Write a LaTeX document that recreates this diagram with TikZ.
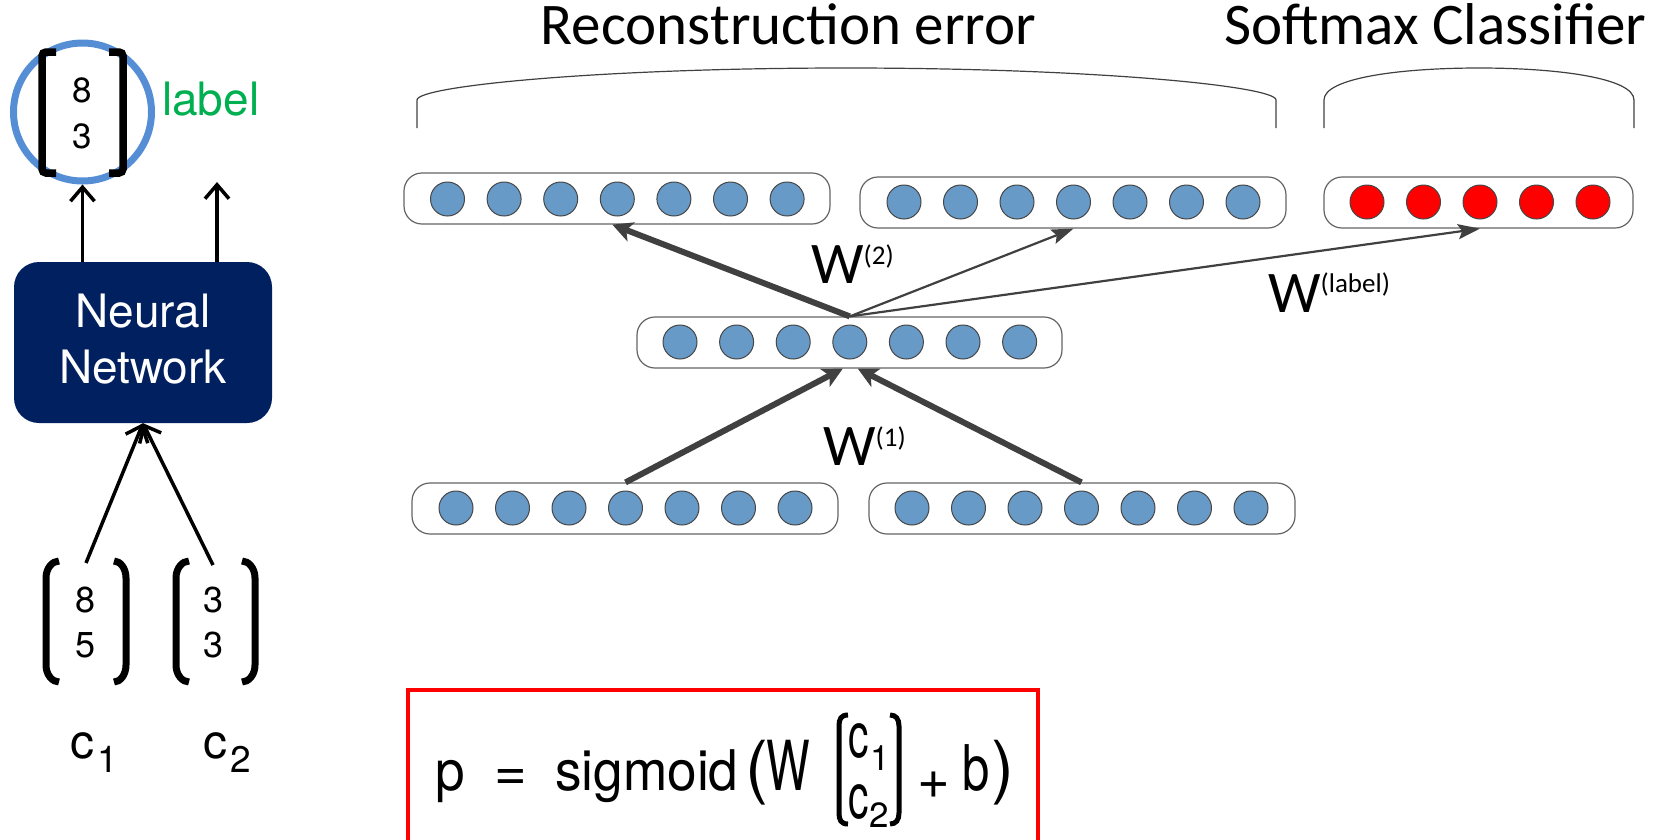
\documentclass[tikz,border=0pt]{standalone}
\usepackage{graphicx}
\usepackage{fontspec}
\setmainfont{TeX Gyre Heros}
\newfontfamily\arialf{TeX Gyre Heros}
\newfontfamily\cali{Carlito}
\usetikzlibrary{arrows.meta}
\newcommand\myfs[1]{\fontsize{#1}{#1}\selectfont}
\definecolor{navy}{RGB}{0,32,96}
\definecolor{nblue}{RGB}{104,154,199}
\definecolor{nline}{RGB}{70,70,70}
\definecolor{barline}{RGB}{100,100,100}
\definecolor{arrowc}{RGB}{64,64,64}
\definecolor{lgreen}{RGB}{0,176,80}
\definecolor{lblue}{RGB}{85,142,213}
\begin{document}
\begin{tikzpicture}[x=1pt,y=-1pt,
  bar/.style={draw=barline, line width=1.2pt, rounded corners=18pt, fill=white, minimum height=51pt, inner sep=0pt},
  bneuron/.style={circle, draw=nline, line width=1pt, fill=nblue, minimum size=34pt, inner sep=0pt},
  rneuron/.style={bneuron, fill=red},
  bigarrow/.style={draw=arrowc, line width=6pt, -{Stealth[length=20pt,width=20pt,inset=5pt]}},
  thinarrow/.style={draw=arrowc, line width=2.2pt, -{Stealth[length=22pt,width=15pt,inset=4pt]}},
  barb/.style={line width=3.5pt, -{Straight Barb[length=14pt,width=24pt]}},
  brk/.style={line width=7pt},
  txt/.style={anchor=base west, inner sep=0pt},
  brace/.style={draw=black!75, line width=1.2pt},
]
\useasboundingbox (0,0) rectangle (1658,839);

% headings and braces
\node[font=\cali\myfs{59}, anchor=base, inner sep=0pt] (rec) at (788.5,44) {Reconstruction error};
\node[font=\cali\myfs{59}, anchor=base, inner sep=0pt] (smx) at (1435.5,44) {Softmax Classifier};
\draw[brace] (417,128) -- (417,100) .. controls (417,86) and (600,68) .. (846,68) .. controls (1092,68) and (1276,86) .. (1276,100) -- (1276,128);
\draw[brace] (1324,128) -- (1324,100) .. controls (1324,78) and (1400,68) .. (1479,68) .. controls (1558,68) and (1634,78) .. (1634,100) -- (1634,128);

% bars
\node[bar, minimum width=426pt] (abar) at (617,198.5) {};
\node[bar, minimum width=426pt] (bbar) at (1073,202.5) {};
\node[bar, minimum width=309pt] (cbar) at (1478.5,202.5) {};
\node[bar, minimum width=425pt] (mbar) at (849.5,342.5) {};
\node[bar, minimum width=426pt] (lbar) at (625,508.5) {};
\node[bar, minimum width=426pt] (rbar) at (1082,508.5) {};

% neurons
\foreach \i in {1,...,7} {
  \node[bneuron] (a\i) at ({447.5+56.6*(\i-1)},199) {};
  \node[bneuron] (b\i) at ({904+56.5*(\i-1)},202) {};
  \node[bneuron] (m\i) at ({680+56.6*(\i-1)},342) {};
  \node[bneuron] (l\i) at ({456+56.5*(\i-1)},508) {};
  \node[bneuron] (r\i) at ({912+56.5*(\i-1)},508) {};
}
\foreach \i in {1,...,5} {
  \node[rneuron] (c\i) at ({1367+56.5*(\i-1)},202) {};
}

% arrows
\draw[bigarrow] (m4 |- mbar.north) -- ([xshift=-5pt]a4 |- abar.south);
\draw[thinarrow] (m4 |- mbar.north) -- (b4 |- bbar.south);
\draw[thinarrow] (m4 |- mbar.north) -- (c3 |- cbar.south);
\draw[bigarrow] (l4 |- lbar.north) -- ([xshift=-7pt]m4 |- mbar.south);
\draw[bigarrow] (r4 |- rbar.north) -- ([xshift=8pt]m4 |- mbar.south);

% weight labels
\node[txt, font=\cali\myfs{59}] (w2) at (811,283) {W\raisebox{19pt}{\myfs{27}(2)}};
\node[txt, font=\cali\myfs{59}] (wl) at (1268,312) {W\raisebox{20pt}{\myfs{27}(label)}};
\node[txt, font=\cali\myfs{59}] (w1) at (823,465) {W\raisebox{19pt}{\myfs{27}(1)}};

% left panel
\node[circle, draw=lblue, line width=7pt, minimum size=138pt, inner sep=0pt] (lcirc) at (82.5,112) {};
\draw[line width=7.5pt, rounded corners=4pt] (56,52) -- (42,52) -- (42,173) -- (56,173);
\draw[line width=7.5pt, rounded corners=4pt] (109,52) -- (123,52) -- (123,173) -- (109,173);
\node[font=\arialf\myfs{35}, anchor=base, inner sep=0pt] (l8) at (82,102) {8};
\node[font=\arialf\myfs{35}, anchor=base, inner sep=0pt] (l3) at (82,148) {3};
\node[txt, font=\arialf\myfs{46}, text=lgreen] (lab) at (162,115) {label};

\node[fill=navy, rounded corners=25pt, minimum width=258pt, minimum height=161pt, text=white, align=center, font=\arialf\fontsize{46}{56}\selectfont, text depth=8pt, inner sep=0pt] (nn) at (143,342.5) {Neural\\Network};

\coordinate (out2) at (217,182);
\coordinate (c1top) at (86,563);
\coordinate (c2top) at (213,565);
\draw[barb] (lcirc.south |- nn.north) -- (lcirc.south);
\draw[barb] (out2 |- nn.north) -- (out2);
\draw[barb] (c1top) -- (nn.south);
\draw[barb] (c2top) -- (nn.south);

\foreach \v/\e in {46/59,126/114,176/189,255/242}
  \draw[brk] (\e,561) .. controls ({(\e+\v)/2},561) and (\v,568) .. (\v,578) -- (\v,665) .. controls (\v,675) and ({(\e+\v)/2},682) .. (\e,682);
\node[font=\arialf\myfs{36}, anchor=base, inner sep=0pt] (v8) at (85.5,612) {8};
\node[font=\arialf\myfs{36}, anchor=base, inner sep=0pt] (v5) at (85.5,657) {5};
\node[font=\arialf\myfs{36}, anchor=base, inner sep=0pt] (v3a) at (213.5,612) {3};
\node[font=\arialf\myfs{36}, anchor=base, inner sep=0pt] (v3b) at (213.5,657) {3};
\node[txt, font=\arialf\myfs{48}] (c1lab) at (70,758) {c\kern3pt\raisebox{-14pt}{\myfs{37}1}};
\node[txt, font=\arialf\myfs{48}] (c2lab) at (203,758) {c\kern3pt\raisebox{-14pt}{\myfs{37}2}};

% formula
\node[draw=red, line width=4pt, minimum width=630pt, minimum height=250pt, anchor=north west, inner sep=0pt, outer sep=0pt] (fbox) at (408,690) {};
\node[txt, font=\arialf\myfs{56}] (fp) at (435,790) {\scalebox{0.95}[1]{p}};
\node[txt, font=\arialf\myfs{56}] (feq) at (494,790) {=};
\node[txt, font=\arialf\myfs{56}] (fsig) at (555,790) {\scalebox{0.95}[1]{sigmoid}};
\node[txt, font=\arialf\myfs{69}] (flp) at (745,790) {(};
\node[txt, font=\arialf\myfs{69}] (fW) at (766,790) {\scalebox{0.67}[1]{W}};
\draw[line width=5pt] (848,715) .. controls (841,715) and (839,719) .. (839,726) -- (839,813) .. controls (839,820) and (841,824) .. (848,824);
\draw[line width=5pt] (890,715) .. controls (896,715) and (899,719) .. (899,726) -- (899,813) .. controls (899,820) and (896,824) .. (890,824);
\node[txt, font=\arialf\myfs{63}] (fc1) at (848,757) {\scalebox{0.65}[1]{c}};
\node[txt, font=\arialf\myfs{35}] (fs1) at (870,770) {1};
\node[txt, font=\arialf\myfs{63}] (fc2) at (848,818) {\scalebox{0.65}[1]{c}};
\node[txt, font=\arialf\myfs{35}] (fs2) at (869,827) {2};
\node[txt, font=\arialf\myfs{56}] (fplus) at (917,798) {+};
\node[txt, font=\arialf\myfs{63}] (fb) at (962,790) {\scalebox{0.78}[1]{b}};
\node[txt, font=\arialf\myfs{69}] (frp) at (991,790) {)};
\end{tikzpicture}
\end{document}
